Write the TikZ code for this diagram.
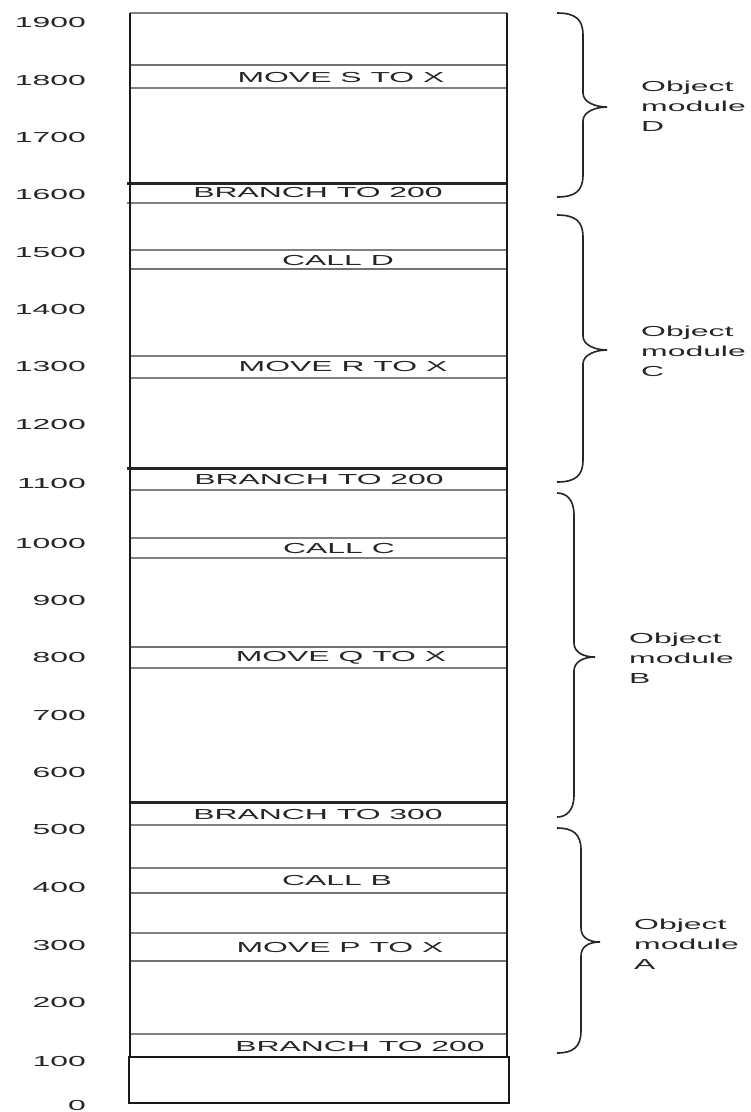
\documentclass[tikz,border=0pt]{standalone}
\usepackage{fontspec}
\usepackage{graphicx}
\setmainfont{Liberation Sans}
\newcommand\stretchtxt[1]{\scalebox{2.2}[1]{#1}}
\newcommand\objbrace[6]{%
  \draw[bracestyle] (#1,#2) .. controls ({#4-8},#2) and (#4,{#2+6}) .. (#4,{#2+22})
    -- (#4,{#6-14}) .. controls (#4,{#6-5}) and ({#5-12},#6) .. (#5,#6)
    .. controls ({#5-12},#6) and (#4,{#6+5}) .. (#4,{#6+14})
    -- (#4,{#3-22}) .. controls (#4,{#3-6}) and ({#4-8},#3) .. (#1,#3);}
\tikzset{
  txt/.style={inner sep=0pt, font=\fontsize{14.5}{20}\selectfont, text=black!85},
  axislbl/.style={txt, anchor=east},
  bandtxt/.style={txt, anchor=center},
  modlbl/.style={txt, anchor=west, align=left},
  wall/.style={line width=1.8pt, black!90},
  thin/.style={line width=1.6pt, black!50},
  mid/.style={line width=2.2pt, black!55},
  heavy/.style={line width=3pt, black!85},
  bracestyle/.style={line width=1.6pt, black!85},
}
\begin{document}
\begin{tikzpicture}[x=1pt,y=-1pt]
\useasboundingbox (0,0) rectangle (751,1112);
\fill[white] (0,0) rectangle (751,1112);
% module D
\draw[thin] (130,13) -- (507,13);
\draw[mid] (130,65) -- (507,65);
\draw[thin] (130,88) -- (507,88);
\draw[heavy] (127,183.5) -- (507,183.5);
\draw[thin] (127,203) -- (507,203);
% module C
\draw[thin] (130,250) -- (507,250);
\draw[mid] (130,269) -- (507,269);
\draw[thin] (130,356) -- (507,356);
\draw[thin] (130,378) -- (507,378);
\draw[heavy] (127,468) -- (507,468);
\draw[thin] (130,490) -- (507,490);
% module B
\draw[thin] (130,538) -- (507,538);
\draw[thin] (130,558) -- (507,558);
\draw[mid] (130,647) -- (507,647);
\draw[thin] (130,668) -- (507,668);
\draw[heavy] (130,802) -- (507,802);
\draw[thin] (130,825) -- (507,825);
% module A
\draw[thin] (130,868) -- (507,868);
\draw[mid] (130,893) -- (507,893);
\draw[thin] (130,933) -- (507,933);
\draw[mid] (130,961) -- (507,961);
\draw[thin] (130,1034) -- (507,1034);
% walls
\draw[wall] (130,13) -- (130,1057);
\draw[wall] (507,13) -- (507,1057);
\draw[wall] (129,1057) rectangle (509,1103);
% band texts
\node[bandtxt] (moveS) at (341,78) {\stretchtxt{MOVE S TO X}};
\node[bandtxt] (brD) at (318,193) {\stretchtxt{BRANCH TO 200}};
\node[bandtxt] (callD) at (338,261) {\stretchtxt{CALL D}};
\node[bandtxt] (moveR) at (343,367) {\stretchtxt{MOVE R TO X}};
\node[bandtxt] (brC) at (319,479) {\stretchtxt{BRANCH TO 200}};
\node[bandtxt] (callC) at (339,548) {\stretchtxt{CALL C}};
\node[bandtxt] (moveQ) at (341,658) {\stretchtxt{MOVE Q TO X}};
\node[bandtxt] (brB) at (318,814) {\stretchtxt{BRANCH TO 300}};
\node[bandtxt] (callB) at (337,880) {\stretchtxt{CALL B}};
\node[bandtxt] (moveP) at (340,947) {\stretchtxt{MOVE P TO X}};
\node[bandtxt] (brA) at (360,1046) {\stretchtxt{BRANCH TO 200}};
% axis labels
\node[axislbl] (a1900) at (86,23) {\stretchtxt{1900}};
\node[axislbl] (a1800) at (86,81) {\stretchtxt{1800}};
\node[axislbl] (a1700) at (86,138) {\stretchtxt{1700}};
\node[axislbl] (a1600) at (86,195) {\stretchtxt{1600}};
\node[axislbl] (a1500) at (86,253) {\stretchtxt{1500}};
\node[axislbl] (a1400) at (86,310) {\stretchtxt{1400}};
\node[axislbl] (a1300) at (86,367) {\stretchtxt{1300}};
\node[axislbl] (a1200) at (86,425) {\stretchtxt{1200}};
\node[axislbl] (a1100) at (86,484) {\stretchtxt{1100}};
\node[axislbl] (a1000) at (86,544) {\stretchtxt{1000}};
\node[axislbl] (a900) at (86,600) {\stretchtxt{900}};
\node[axislbl] (a800) at (86,657) {\stretchtxt{800}};
\node[axislbl] (a700) at (86,715) {\stretchtxt{700}};
\node[axislbl] (a600) at (86,772) {\stretchtxt{600}};
\node[axislbl] (a500) at (86,829) {\stretchtxt{500}};
\node[axislbl] (a400) at (86,887) {\stretchtxt{400}};
\node[axislbl] (a300) at (86,945) {\stretchtxt{300}};
\node[axislbl] (a200) at (86,1002) {\stretchtxt{200}};
\node[axislbl] (a100) at (86,1061) {\stretchtxt{100}};
\node[axislbl] (a0) at (86,1105) {\stretchtxt{0}};
% braces
\objbrace{557}{13}{197}{583}{607}{107}
\objbrace{557}{215}{482}{583}{607}{350}
\objbrace{557}{493}{817}{574}{595}{657}
\objbrace{557}{828}{1053}{581}{600}{942}
% module labels
\node[modlbl] (modD) at (641,106) {\stretchtxt{Object}\\\stretchtxt{module}\\\stretchtxt{D}};
\node[modlbl] (modC) at (641,351) {\stretchtxt{Object}\\\stretchtxt{module}\\\stretchtxt{C}};
\node[modlbl] (modB) at (629,658) {\stretchtxt{Object}\\\stretchtxt{module}\\\stretchtxt{B}};
\node[modlbl] (modA) at (634,944) {\stretchtxt{Object}\\\stretchtxt{module}\\\stretchtxt{A}};
\end{tikzpicture}
\end{document}
